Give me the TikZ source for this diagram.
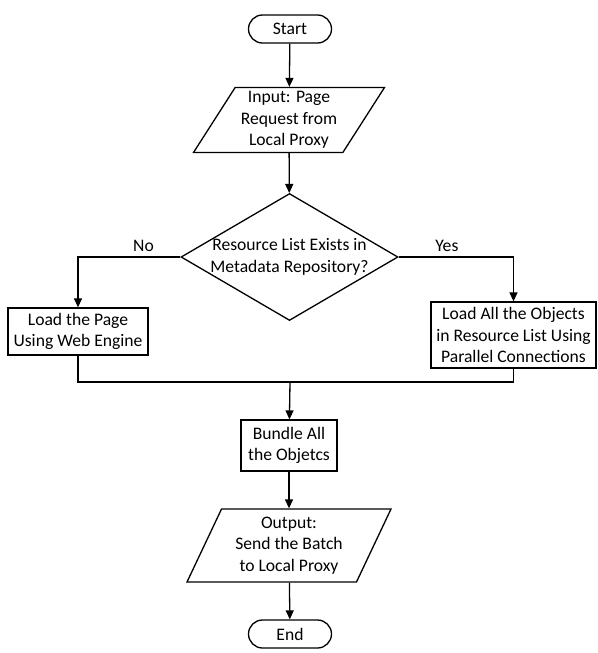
\documentclass[tikz,border=0pt]{standalone}
\usepackage{fontspec}
\setmainfont{Carlito}
\usetikzlibrary{arrows.meta,positioning,shapes.geometric,shapes.misc}
\tikzset{
  >={Triangle[length=9pt,width=8pt]},
  every node/.style={font=\fontsize{17.6}{21.6}\selectfont},
  terminal/.style={rounded rectangle,draw,line width=1.3pt,minimum width=83,minimum height=28,inner sep=0pt},
  io/.style={trapezium,trapezium left angle=54,trapezium right angle=126,trapezium stretches body,
    draw,line width=1.3pt,align=center,inner xsep=2pt,inner ysep=0pt,minimum height=#1},
  io/.default=65,
  proc/.style={rectangle,draw,line width=1.3pt,align=center,inner sep=0pt},
  decision/.style={diamond,draw,line width=1.3pt,minimum width=217,minimum height=127,inner sep=0pt},
  flow/.style={->,line width=1.3pt},
  tag/.style={inner sep=4.5pt},
}
\begin{document}
\begin{tikzpicture}[x=1pt,y=1pt]
  \useasboundingbox (0,0) rectangle (597,-653);
  \node[terminal] (start) at (290,-29) {Start};
  \node[io,minimum width=191] (input) at (289,-120) {Input: Page\\Request from\\Local Proxy};
  \node[decision,label={[align=center]center:Resource List Exists in\\Metadata Repository?}] (dec) at (289.5,-257) {};
  \node[proc,minimum width=140,minimum height=47] (load) at (78,-331.5) {Load the Page\\Using Web Engine};
  \node[proc,minimum width=165,minimum height=66] (objs) at (513.5,-335) {Load All the Objects\\in Resource List Using\\Parallel Connections};
  \coordinate (merge) at (290,-382);
  \node[proc,minimum width=96,minimum height=51] (bundle) at (289,-445.5) {Bundle All\\the Objetcs};
  \node[io=73,trapezium left angle=59,trapezium right angle=121,minimum width=204] (output) at (289,-545.5) {Output:\\Send the Batch\\to Local Proxy};
  \node[terminal] (end) at (290,-634) {End};

  \draw[flow] (start) -- (input);
  \draw[flow] (input) -- (dec);
  \draw[flow] (dec.west) -| node[tag,pos=0.18,above]{No} (load);
  \draw[flow] (dec.east) -| node[tag,pos=0.21,above]{Yes} (objs);
  \draw[line width=1.3pt] (load) |- (merge);
  \draw[line width=1.3pt] (objs) |- (merge);
  \draw[flow] (merge) -- (bundle);
  \draw[flow] (bundle) -- (output);
  \draw[flow] (output) -- (end);
\end{tikzpicture}
\end{document}
